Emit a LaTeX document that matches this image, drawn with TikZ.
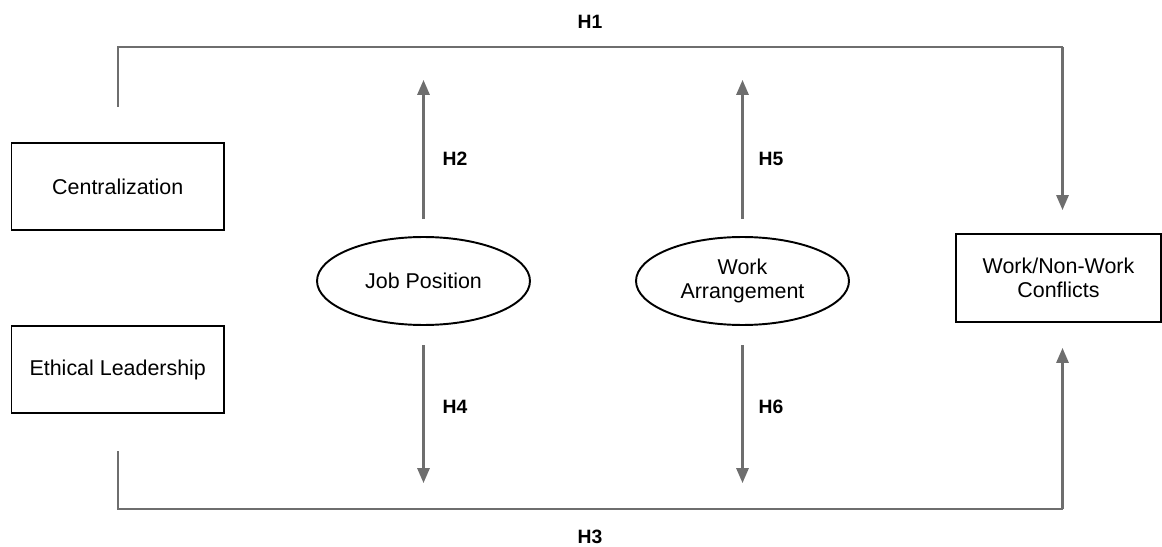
\documentclass[tikz,border=0pt]{standalone}
\usepackage{fontspec}
\setmainfont{Liberation Sans}
\usetikzlibrary{arrows.meta,shapes.geometric}

\definecolor{linkgray}{HTML}{6E6E6E}

\tikzset{
  varbox/.style={draw=black, line width=1.1pt, rectangle, align=center,
    minimum width=4.25cm, minimum height=1.74cm, inner sep=0pt,
    font=\fontsize{12.2}{14}\selectfont},
  modellipse/.style={draw=black, line width=1.1pt, ellipse, align=center,
    minimum width=4.26cm, minimum height=1.76cm, inner sep=0pt,
    font=\fontsize{12.2}{14}\selectfont},
  link/.style={draw=linkgray, line width=1.2pt},
  linkarrow/.style={link, -{Triangle[length=8.5pt,width=7pt]}},
  hlabel/.style={font=\fontsize{11}{13}\selectfont\bfseries, inner sep=0pt}
}

\begin{document}
\begin{tikzpicture}[x=0.02cm,y=-0.02cm]
  \useasboundingbox (0,0) rectangle (1162,547);

  % variables
  \node[varbox] (cent) at (117.75,186.5) {Centralization};
  \node[varbox] (ethic) at (117.75,369.5) {Ethical Leadership};
  \node[varbox, minimum width=4.1cm, minimum height=1.76cm] (wnw) at (1058.5,278) {Work/Non-Work\\Conflicts};

  % moderators
  \node[modellipse] (job) at (423.5,281) {Job Position};
  \node[modellipse] (arr) at (742.5,281) {Work\\Arrangement};

  % connector end points
  \coordinate (h1s) at (118,107);
  \coordinate (h1c) at (1062.5,47);
  \coordinate (h1e) at (1062.5,210);
  \coordinate (h3s) at (118,451);
  \coordinate (h3c) at (1062.5,509);
  \coordinate (h3e) at (1062.5,348);
  \coordinate (h2s) at (423.5,219);
  \coordinate (h2e) at (423.5,80);
  \coordinate (h4s) at (423.5,345);
  \coordinate (h4e) at (423.5,483);
  \coordinate (h5s) at (742.5,219);
  \coordinate (h5e) at (742.5,80);
  \coordinate (h6s) at (742.5,345);
  \coordinate (h6e) at (742.5,483);

  % paths
  \draw[link] (h1s) |- (h1c);
  \draw[linkarrow] (h1c) -- (h1e);
  \draw[link] (h3s) |- (h3c);
  \draw[linkarrow] (h3c) -- (h3e);
  \draw[linkarrow] (h2s) -- (h2e);
  \draw[linkarrow] (h4s) -- (h4e);
  \draw[linkarrow] (h5s) -- (h5e);
  \draw[linkarrow] (h6s) -- (h6e);

  % hypothesis labels
  \node[hlabel] (lh1) at (590,22) {H1};
  \node[hlabel] (lh2) at (455,159) {H2};
  \node[hlabel] (lh3) at (590,537) {H3};
  \node[hlabel] (lh4) at (455,407) {H4};
  \node[hlabel] (lh5) at (771,159) {H5};
  \node[hlabel] (lh6) at (771,407) {H6};
\end{tikzpicture}
\end{document}
